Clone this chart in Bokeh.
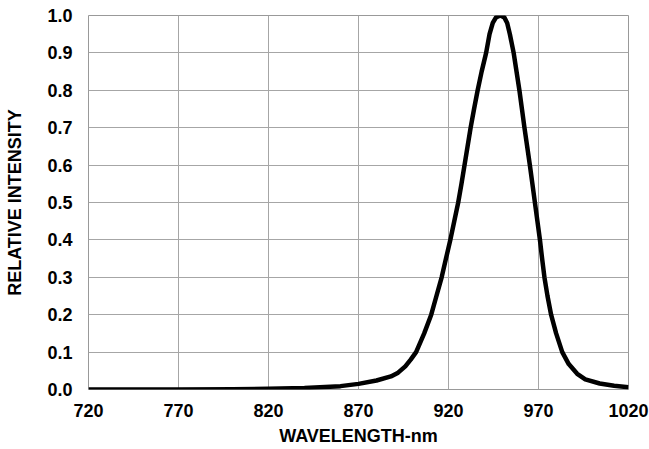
from bokeh.plotting import figure
from bokeh.models import FixedTicker, Range1d
from bokeh.embed import file_html
from bokeh.resources import INLINE

wavelength = [720, 770, 800, 820, 840, 860, 870, 880, 888, 892, 896, 899, 902,
              906.5, 910.4, 913.3, 916.2, 918.6, 921.0, 923.2, 925.4, 927.2,
              928.9, 930.6, 932.3, 934.2, 936.2, 938.4, 940.9, 942.8, 944.6,
              946.4, 948.8, 951.0, 952.6, 954.1, 956.2, 957.8, 959.4, 960.8,
              962.2, 963.7, 965.2, 966.6, 968.0, 969.4, 970.8, 972.0, 973.3,
              975.0, 977.0, 979.8, 983.2, 986.8, 991.5, 996.0, 1004, 1012, 1020]
intensity = [0.0, 0.0, 0.001, 0.002, 0.004, 0.009, 0.015, 0.024, 0.035, 0.045,
             0.062, 0.08, 0.10,
             0.15, 0.20, 0.25, 0.30, 0.35, 0.40, 0.45, 0.50, 0.55,
             0.60, 0.65, 0.70, 0.75, 0.80, 0.85, 0.90, 0.95, 0.98,
             0.995, 1.0, 0.995, 0.98, 0.95, 0.90, 0.85, 0.80, 0.75,
             0.70, 0.65, 0.60, 0.55, 0.50, 0.45, 0.40, 0.35, 0.30,
             0.25, 0.20, 0.15, 0.10, 0.068, 0.042, 0.027, 0.016, 0.010, 0.006]

x_ticks = [720, 770, 820, 870, 920, 970, 1020]
y_ticks = [0.0, 0.1, 0.2, 0.3, 0.4, 0.5, 0.6, 0.7, 0.8, 0.9, 1.0]
y_tick_labels = ["0.0", "0.1", "0.2", "0.3", "0.4", "0.5", "0.6", "0.7", "0.8", "0.9", "1.0"]

p = figure(width=649, height=449, output_backend="svg", toolbar_location=None,
           x_range=Range1d(720, 1020), y_range=Range1d(0, 1.0),
           min_border_left=88, min_border_right=21, min_border_top=15, min_border_bottom=60)

p.line(wavelength, intensity, line_color="black", line_width=4.5, line_join="round")

p.outline_line_color = "#999999"
p.outline_line_width = 1
p.background_fill_color = "white"
p.border_fill_color = "white"

FONT = "Liberation Sans"
for ax in (p.xaxis[0], p.yaxis[0]):
    ax.axis_line_color = None
    ax.major_tick_line_color = None
    ax.minor_tick_line_color = None
    ax.major_tick_out = 0
    ax.major_tick_in = 0
    ax.major_label_text_font = FONT
    ax.major_label_text_font_style = "bold"
    ax.major_label_text_font_size = "18px"
    ax.major_label_text_color = "black"
    ax.axis_label_text_font = FONT
    ax.axis_label_text_font_style = "bold"
    ax.axis_label_text_font_size = "18px"
    ax.axis_label_text_color = "black"

p.xaxis.ticker = FixedTicker(ticks=x_ticks)
p.yaxis.ticker = FixedTicker(ticks=y_ticks)
p.yaxis.major_label_overrides = {t: s for t, s in zip(y_ticks, y_tick_labels)}
p.xaxis.axis_label = "WAVELENGTH-nm"
p.yaxis.axis_label = "RELATIVE INTENSITY"
p.xaxis.major_label_standoff = 14
p.xaxis.axis_label_standoff = 6
p.yaxis.major_label_standoff = 16
p.yaxis.axis_label_standoff = 19

p.xgrid.grid_line_color = "#a6a6a6"
p.ygrid.grid_line_color = "#a6a6a6"
p.xgrid.grid_line_width = 1
p.ygrid.grid_line_width = 1

open("out.html", "w").write(file_html(p, INLINE))
